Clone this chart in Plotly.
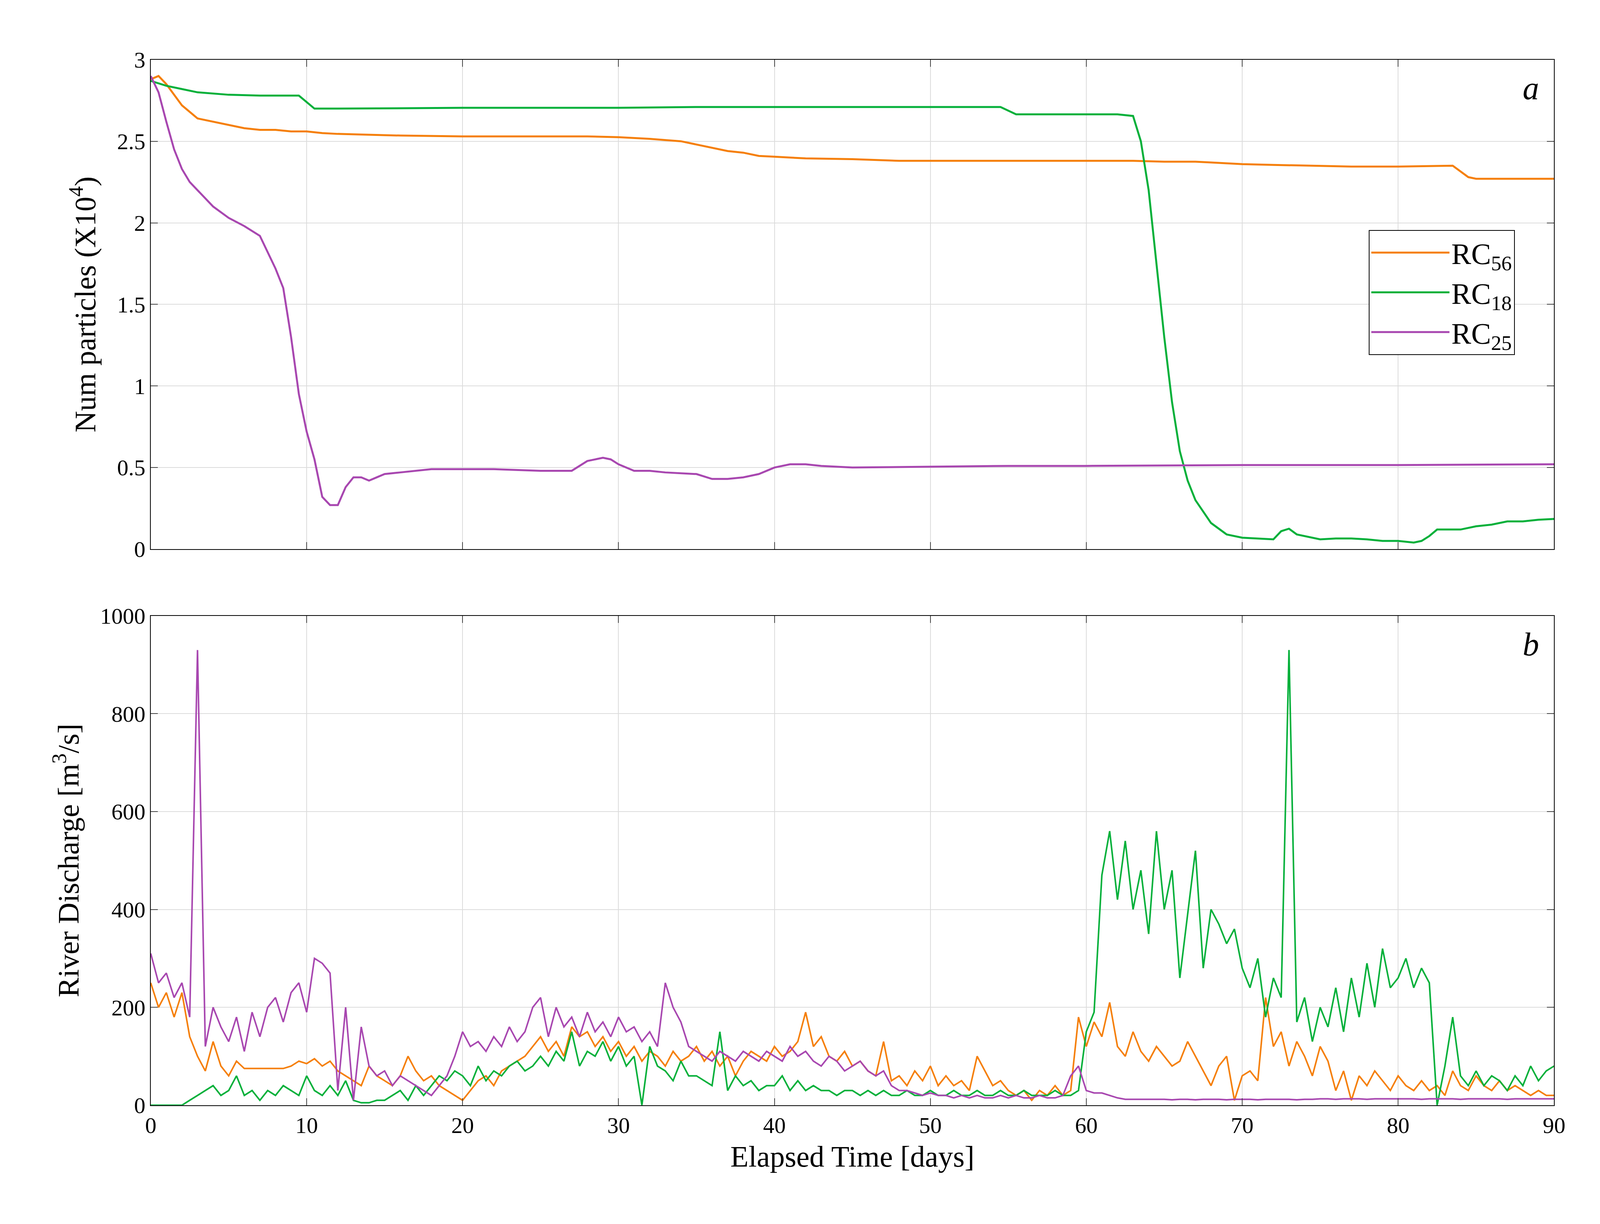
import numpy as np
import plotly.graph_objects as go

# ---- Panel a: number of particles (x10^4) ----
t56 = [0,0.5,1,2,3,4,5,6,7,8,9,10,11,12,14,16,20,25,28,30,32,34,35,36,37,38,39,40,42,45,48,50,55,60,63,65,67,68,70,72,75,77,80,83,83.5,84.5,85,90]
n56 = [2.88,2.9,2.85,2.72,2.64,2.62,2.6,2.58,2.57,2.57,2.56,2.56,2.55,2.545,2.54,2.535,2.53,2.53,2.53,2.525,2.515,2.5,2.48,2.46,2.44,2.43,2.41,2.405,2.395,2.39,2.38,2.38,2.38,2.38,2.38,2.375,2.375,2.37,2.36,2.355,2.35,2.345,2.345,2.35,2.35,2.28,2.27,2.27]
t18 = [0,1,2,3,5,7,9.5,10.5,12,20,30,35,40,45,50,54.5,55.5,58,62,63,63.5,64,64.5,65,65.5,66,66.5,67,68,69,70,71,72,72.5,73,73.5,74,75,76,77,78,79,80,81,81.5,82,82.5,83,84,85,86,87,88,89,90]
n18 = [2.87,2.84,2.82,2.8,2.785,2.78,2.78,2.7,2.7,2.705,2.705,2.71,2.71,2.71,2.71,2.71,2.665,2.665,2.665,2.655,2.5,2.2,1.75,1.3,0.9,0.6,0.42,0.3,0.16,0.09,0.07,0.065,0.06,0.11,0.125,0.09,0.08,0.06,0.065,0.065,0.06,0.05,0.05,0.04,0.05,0.08,0.12,0.12,0.12,0.14,0.15,0.17,0.17,0.18,0.185]
t25 = [0,0.5,1,1.5,2,2.5,3,3.5,4,5,6,7,7.5,8,8.5,9,9.5,10,10.5,11,11.5,12,12.5,13,13.5,14,14.5,15,16,17,18,20,22,25,27,28,29,29.5,30,31,32,33,35,36,37,38,39,40,41,42,43,45,50,55,60,70,80,90]
n25 = [2.9,2.8,2.62,2.45,2.33,2.25,2.2,2.15,2.1,2.03,1.98,1.92,1.82,1.72,1.6,1.3,0.95,0.72,0.55,0.32,0.27,0.27,0.38,0.44,0.44,0.42,0.44,0.46,0.47,0.48,0.49,0.49,0.49,0.48,0.48,0.54,0.56,0.55,0.52,0.48,0.48,0.47,0.46,0.43,0.43,0.44,0.46,0.5,0.52,0.52,0.51,0.5,0.505,0.51,0.51,0.515,0.515,0.52]

# ---- Panel b: river discharge, sampled every 0.5 days ----
q56 = [250,200,230,180,230,140,100,70,130,80,
       60,90,75,75,75,75,75,75,80,90,
       85,95,80,90,70,60,50,40,80,60,
       50,40,60,100,70,50,60,40,30,20,
       10,30,50,60,40,70,80,90,100,120,
       140,110,130,100,160,140,150,120,140,110,
       130,100,120,90,110,100,80,110,90,100,
       120,90,110,80,100,60,90,110,100,90,
       120,100,110,130,190,120,140,100,90,110,
       80,90,70,60,130,50,60,40,70,50,
       80,40,60,40,50,30,100,70,40,50,
       30,20,30,10,30,20,40,20,30,180,
       120,170,140,210,120,100,150,110,90,120,
       100,80,90,130,100,70,40,80,100,10,
       60,70,50,220,120,150,80,130,100,60,
       120,90,30,70,10,60,40,70,50,30,
       60,40,30,50,30,40,20,70,40,30,
       60,40,30,50,30,40,30,20,30,20,
       20]
q18 = [0,0,0,0,0,10,20,30,40,20,
       30,60,20,30,10,30,20,40,30,20,
       60,30,20,40,20,50,10,5,5,10,
       10,20,30,10,40,20,40,60,50,70,
       60,40,80,50,70,60,80,90,70,80,
       100,80,110,90,150,80,110,100,130,90,
       120,80,100,0,120,80,70,50,90,60,
       60,50,40,150,30,60,40,50,30,40,
       40,60,30,50,30,40,30,30,20,30,
       30,20,30,20,30,20,20,30,20,20,
       30,20,20,30,20,20,30,20,20,30,
       20,20,30,20,20,20,30,20,20,30,
       150,190,470,560,420,540,400,480,350,560,
       400,480,260,390,520,280,400,370,330,360,
       280,240,300,180,260,220,930,170,220,130,
       200,160,240,150,260,180,290,200,320,240,
       260,300,240,280,250,0,80,180,60,40,
       70,40,60,50,30,60,40,80,50,70,
       80]
q25 = [310,250,270,220,250,180,930,120,200,160,
       130,180,110,190,140,200,220,170,230,250,
       190,300,290,270,30,200,10,160,80,60,
       70,40,60,50,40,30,20,40,60,100,
       150,120,130,110,140,120,160,130,150,200,
       220,140,200,160,180,140,190,150,170,140,
       180,150,160,130,150,120,250,200,170,120,
       110,100,90,110,100,90,110,100,90,110,
       100,90,120,100,110,90,80,100,90,70,
       80,90,70,60,70,40,30,30,25,20,
       25,20,20,15,20,15,20,15,15,20,
       15,20,15,15,20,15,15,20,60,80,
       30,25,25,20,15,12,12,12,12,12,
       12,11,12,12,11,12,12,12,11,12,
       12,12,11,12,12,12,12,11,12,12,
       13,13,12,13,13,13,12,13,13,13,
       13,13,13,12,13,13,13,13,12,13,
       13,13,13,13,12,13,13,13,13,13,
       13]

ORANGE = "#F57F0A"
GREEN = "#05B03A"
PURPLE = "#A847B0"
FONT = "Liberation Serif"

fig = go.Figure()
for t, n, c, name in [(t56, n56, ORANGE, "RC<sub>56</sub>"), (t18, n18, GREEN, "RC<sub>18</sub>"), (t25, n25, PURPLE, "RC<sub>25</sub>")]:
    fig.add_trace(go.Scatter(x=t, y=n, mode="lines", line=dict(color=c, width=5), name=name, xaxis="x", yaxis="y"))
for q, c in [(q56, ORANGE), (q18, GREEN), (q25, PURPLE)]:
    tq = np.arange(len(q)) * 0.5
    fig.add_trace(go.Scatter(x=tq, y=q, mode="lines", line=dict(color=c, width=4), showlegend=False, xaxis="x2", yaxis="y2"))

ax = dict(showline=True, linecolor="black", linewidth=2, mirror="ticks", ticks="inside", ticklen=18, tickwidth=2,
          showgrid=True, gridcolor="#DCDCDC", gridwidth=2, zeroline=False, tickfont=dict(size=58, family=FONT, color="black"))
fig.update_layout(
    autosize=True, paper_bgcolor="white", plot_bgcolor="white",
    margin=dict(l=0, r=0, t=0, b=0),
    font=dict(family=FONT, color="black"),
    xaxis=dict(ax, domain=[0.09, 0.981], range=[0, 90], dtick=10, showticklabels=False, anchor="y"),
    yaxis=dict(ax, domain=[0.552, 0.963], range=[0, 3], dtick=0.5, anchor="x",
               title=dict(text="Num particles (X10<sup>4</sup>)", font=dict(size=76, family=FONT), standoff=30)),
    xaxis2=dict(ax, domain=[0.09, 0.981], range=[0, 90], dtick=10, anchor="y2",
                title=dict(text="Elapsed Time [days]", font=dict(size=76, family=FONT), standoff=20)),
    yaxis2=dict(ax, domain=[0.085, 0.496], range=[0, 1000], dtick=200, anchor="x2",
                title=dict(text="River Discharge [m<sup>3</sup>/s]", font=dict(size=76, family=FONT), standoff=30)),
    legend=dict(x=0.956, y=0.82, xanchor="right", yanchor="top", bgcolor="white", bordercolor="black", borderwidth=2,
                font=dict(size=76, family=FONT), tracegroupgap=0, itemwidth=200),
    annotations=[
        dict(text="<i>a</i>", x=0.972, y=0.955, xref="paper", yref="paper", xanchor="right", yanchor="top", showarrow=False, font=dict(size=84, family=FONT)),
        dict(text="<i>b</i>", x=0.972, y=0.488, xref="paper", yref="paper", xanchor="right", yanchor="top", showarrow=False, font=dict(size=84, family=FONT)),
    ],
)
fig.write_html("out.html", default_width="calc(100vw - 20px)", default_height="calc(100vh - 20px)", config={"responsive": True})
